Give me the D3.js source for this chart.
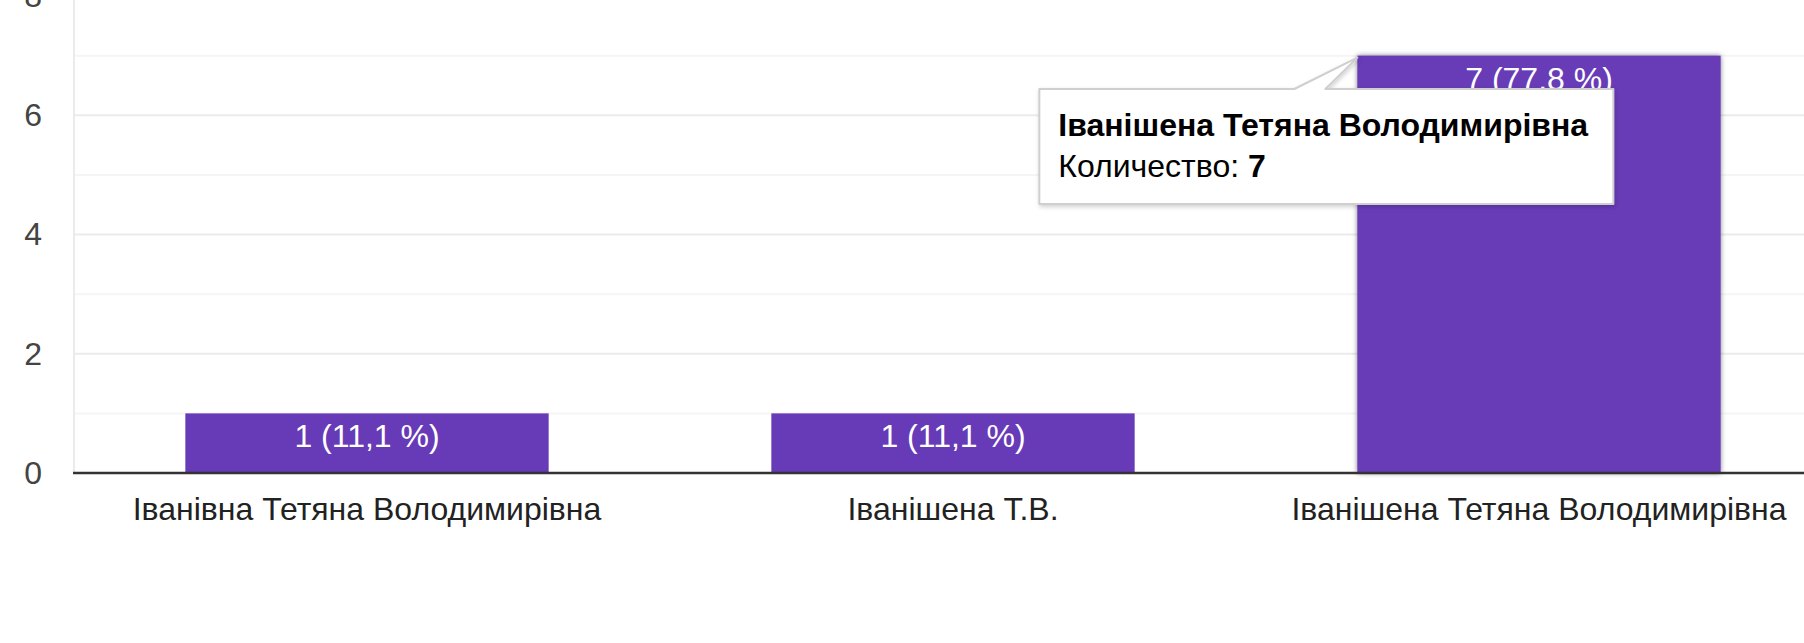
<!DOCTYPE html>
<html>
<head>
<meta charset="utf-8">
<script src="https://cdn.jsdelivr.net/npm/d3@7"></script>
<style>
  body { margin: 0; background: #fff; }
  svg { display: block; font-family: "Liberation Sans", Arial, sans-serif; }
</style>
</head>
<body>
<div id="chart"></div>
<script>
// Bar chart of answers (Google Forms style)

const categories = ["Іванівна Тетяна Володимирівна", "Іванішена Т.В.", "Іванішена Тетяна Володимирівна"];
const counts = [1, 1, 7];
const yTicks = [0, 2, 4, 6, 8];
const yMinor = [1, 3, 5, 7];
const hoverIndex = 2;
const tooltipLabel = "Количество:";

const W = 1804, H = 643;
const fs = 32;

const svg = d3.select("#chart").
append("svg").
attr("width", W).
attr("height", H);

const defs = svg.append("defs");
defs.append("filter").
attr("id", "barShadow").
attr("x", "-10%").attr("y", "-10%").attr("width", "120%").attr("height", "120%").
append("feDropShadow").
attr("dx", 0).attr("dy", 0).attr("stdDeviation", 2.5).
attr("flood-color", "#000").attr("flood-opacity", 0.5);

defs.append("filter").
attr("id", "tipShadow").
attr("x", "-10%").attr("y", "-20%").attr("width", "120%").attr("height", "150%").
append("feDropShadow").
attr("dx", 1).attr("dy", 2).attr("stdDeviation", 2).
attr("flood-color", "#000").attr("flood-opacity", 0.18);

// scales
const xScale = d3.scaleBand().
domain(categories).
range([74, 1832]).
paddingInner(0.38).
paddingOuter(0.19);

const yScale = d3.scaleLinear().
domain([0, 8]).
range([473, -4]);

const total = d3.sum(counts);
const data = categories.map((c, i) => ({
  cat: c,
  count: counts[i],
  pct: (counts[i] / total * 100).toFixed(1).replace(".", ",")
}));

// gridlines
svg.append("g").
selectAll("line").
data(yMinor).
join("line").
attr("x1", 74).attr("x2", W).
attr("y1", d => yScale(d)).attr("y2", d => yScale(d)).
attr("stroke", "#f5f5f5").attr("stroke-width", 2);

svg.append("g").
selectAll("line").
data(yTicks.filter(d => d > 0)).
join("line").
attr("x1", 74).attr("x2", W).
attr("y1", d => yScale(d)).attr("y2", d => yScale(d)).
attr("stroke", "#ebebeb").attr("stroke-width", 2);

svg.append("line").
attr("x1", 74).attr("x2", 74).
attr("y1", 0).attr("y2", yScale(0)).
attr("stroke", "#ebebeb").attr("stroke-width", 2);

// y axis labels
const yAxis = d3.axisLeft(yScale).
tickValues(yTicks).
tickSize(0).
tickPadding(0);

const yG = svg.append("g").
attr("transform", "translate(42 0)").
call(yAxis);
yG.select(".domain").remove();
yG.selectAll("text").
attr("font-size", fs).
attr("font-family", "'Liberation Sans', Arial, sans-serif").
attr("fill", "#444");

// bars
svg.append("g").
selectAll("rect").
data(data).
join("rect").
attr("x", d => xScale(d.cat)).
attr("y", d => yScale(d.count)).
attr("width", xScale.bandwidth()).
attr("height", d => yScale(0) - yScale(d.count)).
attr("fill", "#673ab7").
attr("filter", (d, i) => i === hoverIndex ? "url(#barShadow)" : null);

// bar labels
svg.append("g").
selectAll("text").
data(data).
join("text").
attr("x", d => xScale(d.cat) + xScale.bandwidth() / 2).
attr("y", d => yScale(d.count) + 34).
attr("text-anchor", "middle").
attr("font-size", fs).
attr("fill", "#fff").
text(d => `${d.count} (${d.pct} %)`);

// baseline + x axis
svg.append("line").
attr("x1", 73).attr("x2", W).
attr("y1", yScale(0)).attr("y2", yScale(0)).
attr("stroke", "#333").attr("stroke-width", 2.5);

const xAxis = d3.axisBottom(xScale).tickSize(0).tickPadding(0);
const xG = svg.append("g").
attr("transform", `translate(0 ${yScale(0) + 47})`).
call(xAxis);
xG.select(".domain").remove();
xG.selectAll("text").
attr("dy", 0).
attr("font-size", fs).
attr("font-family", "'Liberation Sans', Arial, sans-serif").
attr("fill", "#222");

// tooltip for hovered bar
const hd = data[hoverIndex];
const tipX = xScale(hd.cat), tipY = yScale(hd.count) + 2;
const bx0 = tipX - 318, bx1 = tipX + 256, by0 = 89, by1 = 204;
const tl = tipX - 63, tr = tipX - 32;

const tip = svg.append("g");
tip.append("path").
attr("d", `M${bx0},${by0} L${tl},${by0} L${tipX},${tipY} L${tr},${by0} L${bx1},${by0} L${bx1},${by1} L${bx0},${by1} Z`).
attr("fill", "#fff").
attr("stroke", "#cfcfcf").
attr("stroke-width", 2).
attr("stroke-linejoin", "round").
attr("filter", "url(#tipShadow)");

tip.append("text").
attr("x", bx0 + 19).
attr("y", 136).
attr("font-size", fs).
attr("font-weight", "bold").
attr("fill", "#000").
text(hd.cat);

const t2 = tip.append("text").
attr("x", bx0 + 19).
attr("y", 177).
attr("font-size", fs).
attr("fill", "#000");
t2.append("tspan").text(tooltipLabel + " ");
t2.append("tspan").attr("font-weight", "bold").text(hd.count);
</script>
</body>
</html>
